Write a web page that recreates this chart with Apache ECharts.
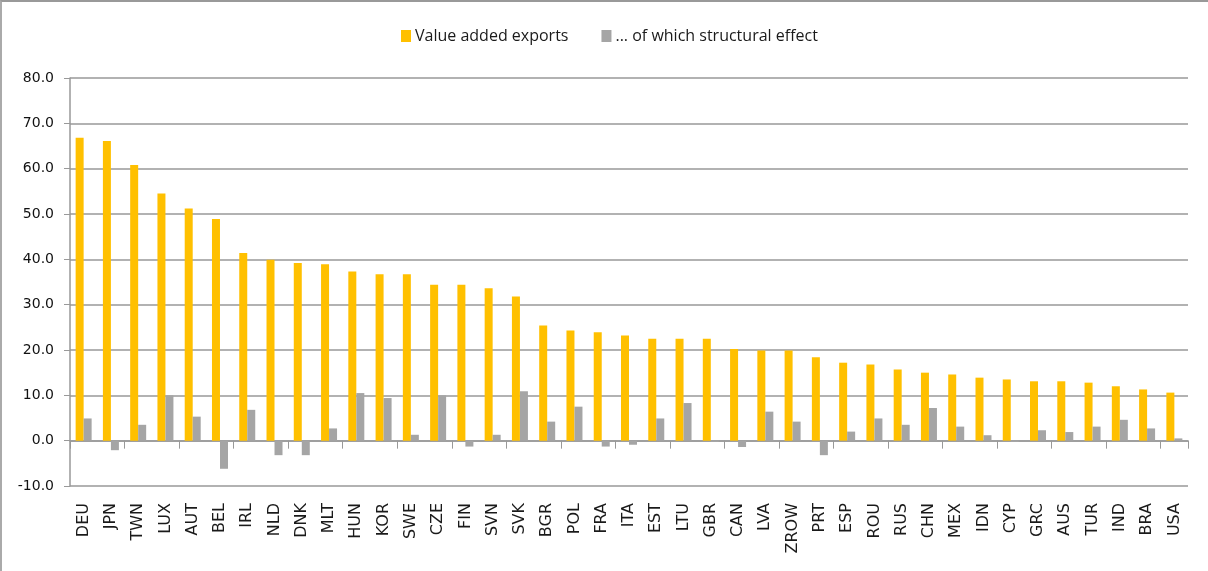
<!DOCTYPE html>
<html>
<head>
<meta charset="utf-8">
<script src="https://cdn.jsdelivr.net/npm/echarts@6/dist/echarts.min.js"></script>
<style>
  html, body { margin: 0; padding: 0; background: #fff; }
  #chart { width: 1208px; height: 571px; box-sizing: border-box; border-top: 2px solid #999; border-left: 2px solid #aaa; }
</style>
</head>
<body>
<div id="chart"></div>
<script>
var countries = ['DEU', 'JPN', 'TWN', 'LUX', 'AUT', 'BEL', 'IRL', 'NLD', 'DNK', 'MLT', 'HUN', 'KOR', 'SWE', 'CZE', 'FIN', 'SVN', 'SVK', 'BGR', 'POL', 'FRA', 'ITA', 'EST', 'LTU', 'GBR', 'CAN', 'LVA', 'ZROW', 'PRT', 'ESP', 'ROU', 'RUS', 'CHN', 'MEX', 'IDN', 'CYP', 'GRC', 'AUS', 'TUR', 'IND', 'BRA', 'USA']
var valueAdded = [66.8, 66.1, 60.8, 54.5, 51.2, 48.9, 41.4, 39.9, 39.2, 38.9, 37.3, 36.7, 36.7, 34.4, 34.4, 33.6, 31.8, 25.4, 24.3, 23.9, 23.2, 22.5, 22.5, 22.5, 20.2, 19.9, 19.9, 18.4, 17.2, 16.8, 15.7, 15.0, 14.6, 13.9, 13.5, 13.1, 13.1, 12.8, 12.0, 11.3, 10.6]
var structural = [4.9, -2.1, 3.5, 10.0, 5.3, -6.2, 6.8, -3.2, -3.2, 2.7, 10.5, 9.4, 1.3, 10.0, -1.3, 1.3, 10.9, 4.2, 7.5, -1.3, -0.9, 4.9, 8.3, -0.3, -1.4, 6.4, 4.2, -3.2, 2.0, 4.9, 3.5, 7.2, 3.1, 1.2, -0.3, 2.3, 1.9, 3.1, 4.6, 2.7, 0.5]
var yTicks = { min: -10, max: 80, step: 10 }

var chart = echarts.init(document.getElementById('chart'), null, { renderer: 'canvas' })
chart.setOption({
  animation: false,
  legend: {
    top: 21,
    left: 394,
    itemWidth: 10,
    itemHeight: 12,
    itemGap: 33,
    icon: 'rect',
    textStyle: { fontFamily: 'Open Sans', fontSize: 16, color: '#1a1a1a', padding: [0, 0, 0, -1] },
    data: ['Value added exports', '... of which structural effect']
  },
  grid: { left: 68, right: 20, top: 76, bottom: 85 },
  xAxis: [{
    type: 'category',
    data: countries,
    position: 'bottom',
    axisLine: { show: false, onZero: false },
    axisTick: { show: false },
    axisLabel: { rotate: 90, interval: 0, margin: 17, fontFamily: 'DejaVu Sans', fontSize: 16, color: '#1a1a1a' }
  }, {
    type: 'category',
    data: countries,
    position: 'top',
    axisLine: { show: true, onZero: true, lineStyle: { color: '#999', width: 1.5 } },
    axisTick: { show: true, inside: true, length: 8, lineStyle: { color: '#999' } },
    axisLabel: { show: false }
  }],
  yAxis: {
    type: 'value',
    min: yTicks.min,
    max: yTicks.max,
    interval: yTicks.step,
    axisLine: { show: true, lineStyle: { color: '#999', width: 1.5 } },
    axisTick: { show: true, length: 6, lineStyle: { color: '#999' } },
    splitLine: { lineStyle: { color: '#999', width: 1.5 } },
    axisLabel: {
      margin: 16,
      fontFamily: 'DejaVu Sans',
      fontSize: 14,
      color: '#111',
      formatter: function (v) { return v.toFixed(1) }
    }
  },
  series: [{
    name: 'Value added exports',
    type: 'bar',
    xAxisIndex: 0,
    barWidth: 8,
    barGap: '0%',
    itemStyle: { color: '#FFC000' },
    data: valueAdded
  }, {
    name: '... of which structural effect',
    type: 'bar',
    xAxisIndex: 0,
    barWidth: 8,
    itemStyle: { color: '#A5A5A5' },
    data: structural
  }]
})
</script>
</body>
</html>
